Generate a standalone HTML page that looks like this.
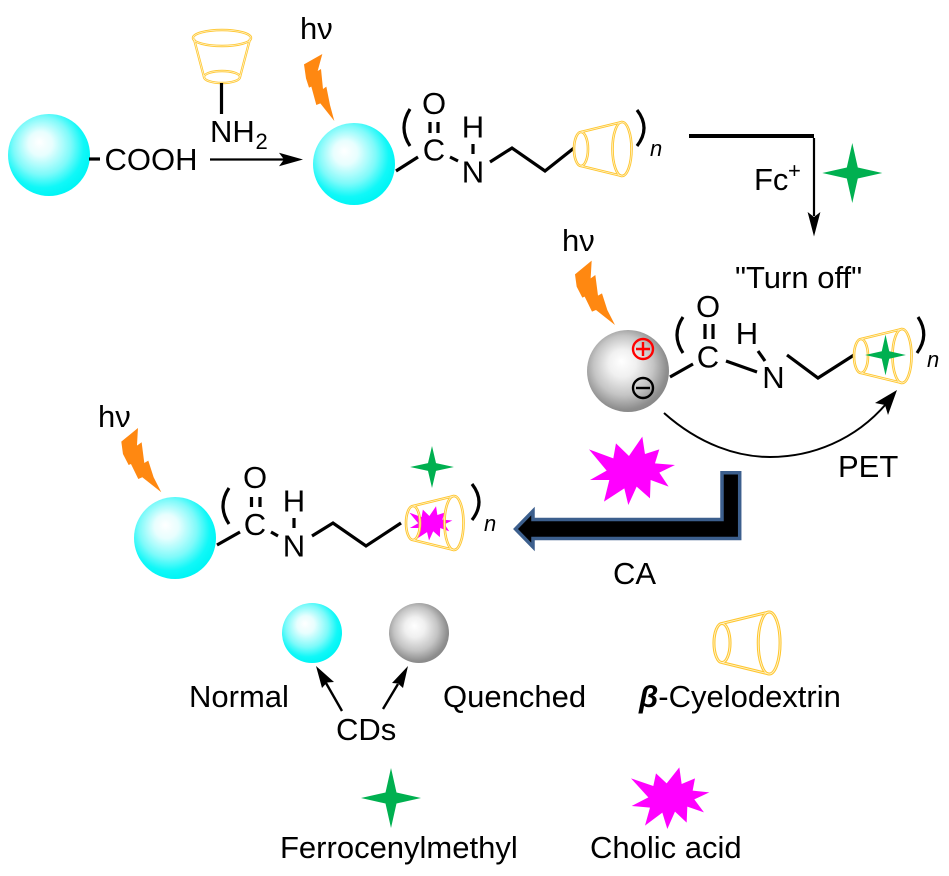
<!DOCTYPE html>
<html>
<head>
<meta charset="utf-8">
<style>
html,body{margin:0;padding:0;background:#fff;}
svg{display:block;}
text{font-family:"Liberation Sans",sans-serif;fill:#000;font-size:31px;}
.c{text-anchor:middle;font-size:31px;}
.n{font-style:italic;font-size:22px;}
.b{stroke:#000;stroke-width:3.2;fill:none;}
</style>
</head>
<body>
<svg width="949" height="876" viewBox="0 0 949 876" xmlns="http://www.w3.org/2000/svg">
<defs>
<radialGradient id="cy" cx=".44" cy=".42" r=".58" fx=".38" fy=".34">
<stop offset="0" stop-color="#fff"/><stop offset=".25" stop-color="#e8fefe"/><stop offset=".6" stop-color="#80fafa"/><stop offset=".85" stop-color="#10f8f8"/><stop offset="1" stop-color="#00f5f5"/>
</radialGradient>
<radialGradient id="gr" cx=".46" cy=".46" r=".56" fx=".42" fy=".38">
<stop offset="0" stop-color="#fff"/><stop offset=".3" stop-color="#f0f0f0"/><stop offset=".65" stop-color="#c4c4c4"/><stop offset=".92" stop-color="#8e8e8e"/><stop offset="1" stop-color="#888"/>
</radialGradient>
<g id="cone" fill="none">
<g stroke="#FFC62E" stroke-width="2.6">
<ellipse cx="0" cy="0" rx="7" ry="17"/><ellipse cx="41" cy="0" rx="9.5" ry="27"/>
<path d="M0-17L41-27M0 17L41 27"/>
</g>
<g stroke="#FFF3CC" stroke-width=".8">
<ellipse cx="0" cy="0" rx="7" ry="17"/><ellipse cx="41" cy="0" rx="9.5" ry="27"/>
<path d="M0-17L41-27M0 17L41 27"/>
</g>
</g>
<polygon id="gs" fill="#00B050" points="0,-30 5.5,-5.5 30,0 5.5,5.5 0,30 -5.5,5.5 -30,0 -5.5,-5.5"/>
<polygon id="ps" fill="#FF00FF" points="787,20 795,72 838,58 825,100 885,105 838,128 866,170 812,150 810,205 770,170 745,225 733,175 672,215 688,150 630,150 680,122 627,58 700,85 708,40 747,78"/>
<polygon id="bolt2" fill="#FF8811" points="65,17 15,58 20,95 37,128 44,125 66,170 78,165 135,210 112,165 96,115 84,122 76,60 62,70"/>
</defs>

<!-- top row -->
<circle cx="49" cy="155" r="41" fill="url(#cy)"/>
<path d="M89 159H100" class="b"/>
<text x="104.500" y="170">COOH</text>

<g fill="none">
<g stroke="#FFC62E" stroke-width="2.4">
<ellipse cx="222" cy="38" rx="29" ry="8"/><ellipse cx="222" cy="77" rx="18" ry="6"/>
<path d="M194 39L204 77M250 39L240 77"/>
</g>
<g stroke="#FFF3CC" stroke-width=".8">
<ellipse cx="222" cy="38" rx="29" ry="8"/><ellipse cx="222" cy="77" rx="18" ry="6"/>
<path d="M194 39L204 77M250 39L240 77"/>
</g>
</g>
<path d="M221.500 83V114" class="b"/>
<text x="210" y="142">NH</text>
<text x="255.500" y="149" style="font-size:22px">2</text>
<path d="M210 159.500H284" stroke="#000" stroke-width="2.2"/>
<polygon points="303,159.500 279,152.700 284,159.500 279,166.200"/>

<text x="300" y="39">hν</text>
<polygon fill="#FF8811" transform="translate(295,45) scale(.3333)" points="82,27 27,58 33,100 42,128 49,125 64,180 76,175 118,228 105,180 94,125 84,132 78,72 68,78"/>

<!-- molecule 1 -->
<circle cx="354" cy="164" r="41" fill="url(#cy)"/>
<path d="M396 171L418 157" class="b"/>
<text class="c" x="434" y="160.500">C</text>
<text class="c" x="434" y="114">O</text>
<path d="M430 122V133M438 122V133" class="b"/>
<path d="M410 109Q398 128 410 146" class="b"/>
<path d="M450 157L458 161" class="b"/>
<text class="c" x="473" y="137.500">H</text>
<text class="c" x="473" y="182.500">N</text>
<path d="M473 144V154" class="b"/>
<path d="M490 162L512 148L545 171L574 148" class="b"/>
<use href="#cone" transform="translate(581,149)"/>
<path d="M637 110Q651 128 637 146" class="b"/>
<text class="n" x="650" y="156">n</text>

<!-- reaction to Turn off -->
<rect x="689" y="134" width="125" height="4"/>
<path d="M814 138V216" stroke="#000" stroke-width="2.2"/>
<polygon points="814,236.500 807.600,212 814,217 820.400,212"/>
<text x="754" y="190">Fc</text>
<text x="788" y="178" style="font-size:22px">+</text>
<use href="#gs" transform="translate(852.300,173)"/>
<text x="735" y="288">"Turn off"</text>

<!-- molecule 2 -->
<text x="562" y="251">hν</text>
<use href="#bolt2" transform="translate(570,255) scale(.3333)"/>
<circle cx="628" cy="371" r="41" fill="url(#gr)"/>
<circle cx="643" cy="349" r="10" fill="none" stroke="#f00" stroke-width="2.4"/>
<path d="M636 349H650M643 342V356" stroke="#f00" stroke-width="2.4"/>
<circle cx="643" cy="388" r="10" fill="none" stroke="#000" stroke-width="2.4"/>
<path d="M636 388H650" stroke="#000" stroke-width="2.4"/>
<path d="M670 377L693 364" class="b"/>
<text class="c" x="708" y="367.300">C</text>
<text class="c" x="708" y="317">O</text>
<path d="M705 324V339M713 324V339" class="b"/>
<path d="M683 317Q671 335 683 353" class="b"/>
<path d="M726 361L757 372" class="b"/>
<text class="c" x="747" y="344">H</text>
<text class="c" x="773.500" y="388">N</text>
<path d="M758 351L765 361" class="b"/>
<path d="M787 355L818 378L854 355" class="b"/>
<use href="#cone" transform="translate(861,356)"/>
<use href="#gs" transform="translate(885.500,355) scale(.68)"/>
<path d="M918 317Q930 335 917 353" class="b"/>
<text class="n" x="927" y="367">n</text>

<!-- PET arc -->
<path d="M664 413C700 445 738 457 770 457C812 457 855 440 886 404" fill="none" stroke="#000" stroke-width="2"/>
<polygon points="897,390 875,403 885,405 888,415"/>
<text x="838" y="477">PET</text>

<!-- CA arrow -->
<polygon points="739.700,472.700 722,472.700 722,519.500 533,519.500 533,511 515.500,529 533,547 533,538.500 739.700,538.500" fill="#000" stroke="#3C5F8D" stroke-width="3.500" stroke-miterlimit="10"/>
<use href="#ps" transform="translate(380,430) scale(.3333)"/>
<text x="613" y="584">CA</text>

<!-- molecule 3 -->
<text x="98" y="427">hν</text>
<use href="#bolt2" transform="translate(116.300,422.300) scale(.3333)"/>
<circle cx="175" cy="538" r="41" fill="url(#cy)"/>
<path d="M217 545L240 532" class="b"/>
<text class="c" x="255" y="535">C</text>
<text class="c" x="255" y="488">O</text>
<path d="M251.500 497V507M260 497V507" class="b"/>
<path d="M229 488Q217 506 229 524" class="b"/>
<path d="M271 532L278 536" class="b"/>
<text class="c" x="294" y="511.700">H</text>
<text class="c" x="294" y="556.700">N</text>
<path d="M294 518V528" class="b"/>
<path d="M312 536L333 523L366 546L401 523" class="b"/>
<use href="#ps" transform="translate(430.700,523.300) scale(.1667) translate(-755,-122)"/>
<use href="#cone" transform="translate(413,523)"/>
<use href="#gs" transform="translate(432,467) scale(.73,.7)"/>
<path d="M472 484Q486 502 472 520" class="b"/>
<text class="n" x="484" y="531">n</text>

<!-- legend -->
<circle cx="312" cy="633" r="30" fill="url(#cy)"/>
<circle cx="419" cy="633" r="30" fill="url(#gr)"/>
<path d="M342 711L326 683" stroke="#000" stroke-width="2.4"/>
<polygon points="316,666 322,688 327,682.500 334,682"/>
<path d="M383 709L398 684" stroke="#000" stroke-width="2.4"/>
<polygon points="408,666 392,683 398,683.500 403,688"/>
<text x="189" y="707">Normal</text>
<text x="443" y="707">Quenched</text>
<text x="336" y="740">CDs</text>
<use href="#cone" transform="translate(722,643) scale(1.15)"/>
<text x="639" y="707"><tspan style="font-weight:bold;font-style:italic">β</tspan>-Cyelodextrin</text>
<use href="#gs" transform="translate(391,798)"/>
<text x="280" y="858">Ferrocenylmethyl</text>
<polygon fill="#FF00FF" transform="translate(580,760) scale(.3333)" points="298,22 305,72 345,55 338,92 388,97 343,118 372,157 322,140 320,188 285,155 262,207 247,158 195,197 210,143 155,138 205,112 153,55 220,78 228,40 260,70"/>
<text x="590" y="858">Cholic acid</text>
</svg>
</body>
</html>
